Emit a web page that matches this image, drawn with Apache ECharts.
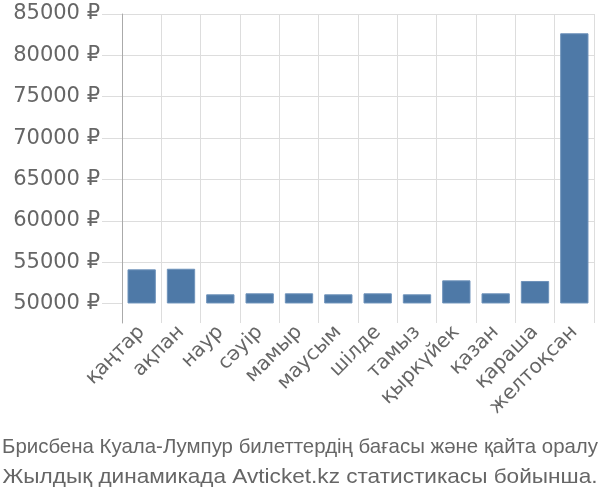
<!DOCTYPE html>
<html>
<head>
<meta charset="utf-8">
<script src="https://cdn.jsdelivr.net/npm/echarts@6/dist/echarts.min.js"></script>
<style>html,body{margin:0;padding:0;background:#fff}#c{width:600px;height:500px}</style>
</head>
<body>
<div id="c"></div>
<script>
var months = ['қаңтар','ақпан','наур','сәуір','мамыр','маусым','шілде','тамыз','қыркүйек','қазан','қараша','желтоқсан'];
var prices = [54130, 54200, 51110, 51230, 51230, 51110, 51230, 51110, 52800, 51230, 52720, 82670];
var yTicks = [50000, 55000, 60000, 65000, 70000, 75000, 80000, 85000];
var barBase = 50000;
var yMin = 47640, yMax = 85000;
var titleLines = ['Брисбена Куала-Лумпур билеттердің бағасы және қайта оралу', 'Жылдық динамикада Avticket.kz статистикасы бойынша.'];

var titleFont = '21px "Liberation Sans"';
var mc = document.createElement('canvas').getContext('2d');
mc.font = titleFont;
function titleText(txt, y, targetW) {
  var w = mc.measureText(txt).width;
  return {
    type: 'text', x: 300, y: y, originX: 0, originY: 0, scaleX: targetW / w,
    style: { text: txt, x: 0, y: 0, font: titleFont, fill: '#666', textAlign: 'center', textVerticalAlign: 'middle' }
  };
}

var chart = echarts.init(document.getElementById('c'));
chart.setOption({
  animation: false,
  graphic: [titleText(titleLines[0], 447, 596), titleText(titleLines[1], 477, 595)],
  grid: { left: 122, right: 6, top: 14, bottom: 177, containLabel: false },
  xAxis: {
    type: 'category', data: months,
    axisLine: { show: false },
    axisTick: { show: false },
    splitLine: { show: true, lineStyle: { color: '#ddd', width: 1 } },
    axisLabel: { rotate: 45, fontFamily: 'DejaVu Sans', fontSize: 20, color: '#666', margin: 6, interval: 0 }
  },
  yAxis: {
    type: 'value', min: yMin, max: yMax,
    axisLine: { show: true, lineStyle: { color: '#aaa', width: 1 } },
    axisTick: { show: true, length: 20, lineStyle: { color: '#ddd' }, customValues: yTicks },
    splitLine: { show: true, lineStyle: { color: '#ddd', width: 1 }, showMinLine: false, showMaxLine: true },
    axisLabel: { customValues: yTicks, fontFamily: 'DejaVu Sans', fontSize: 21, color: '#666', margin: 22,
      formatter: function (v) { return v + ' ₽'; } }
  },
  series: [
    { type: 'bar', stack: 'p', silent: true, itemStyle: { color: 'rgba(0,0,0,0)' },
      data: months.map(function () { return barBase; }), barCategoryGap: '28%' },
    { type: 'bar', stack: 'p',
      itemStyle: { color: '#4e79a7', borderColor: '#6f93bb', borderWidth: 1 },
      data: prices.map(function (p) { return p - barBase; }), barCategoryGap: '28%' }
  ]
});
</script>
</body>
</html>
